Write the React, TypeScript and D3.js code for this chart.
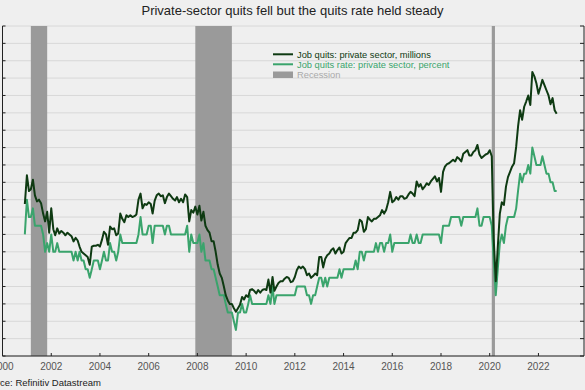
import * as d3 from "d3";

const WIDTH = 585;
const HEIGHT = 390;

// plot box (the original image is cropped on the left and right)
const X0 = 2.5;
const X1 = 584;
const Y0 = 26;
const Y1 = 356;

const TITLE = "Private-sector quits fell but the quits rate held steady";
const SOURCE = "Source: Refinitiv Datastream";

// monthly series, first value is December 2000
const START = new Date(2000, 11, 1);

const quitsMillions = [
  2.95,
  3.28, 3.10, 3.12, 3.23, 3.05, 2.98, 3.00, 2.96, 2.84, 2.75, 2.86, 2.62,
  2.90, 2.66, 2.59, 2.67, 2.61, 2.64, 2.62, 2.59, 2.62, 2.60, 2.58, 2.52,
  2.56, 2.53, 2.46, 2.40, 2.38, 2.36, 2.34, 2.25, 2.46, 2.47, 2.47, 2.48,
  2.46, 2.54, 2.63, 2.60, 2.48, 2.69, 2.66, 2.67, 2.59, 2.61, 2.84, 2.78,
  2.74, 2.82, 2.80, 2.82, 2.80, 2.81, 2.83, 3.00, 3.07, 2.90, 2.95, 2.94,
  2.97, 2.95, 2.84, 2.99, 3.05, 3.07, 3.04, 3.05, 2.96, 3.03, 3.07, 3.04,
  3.01, 2.99, 3.03, 2.97, 3.01, 2.97, 3.06, 3.03, 2.75, 2.88, 2.85, 2.92,
  2.83, 2.93, 2.76, 2.86, 2.70, 2.65, 2.62, 2.52, 2.52, 2.40, 2.25, 2.15,
  2.10, 2.00, 1.90, 1.84, 1.80, 1.80, 1.75, 1.71, 1.75, 1.79, 1.88, 1.85,
  1.90, 1.88, 1.96, 1.97, 1.95, 1.92, 1.96, 1.93, 1.96, 1.97, 1.96, 2.08,
  1.93, 2.11, 1.95, 2.00, 2.04, 2.06, 2.06, 2.09, 2.11, 2.10, 2.05, 2.06,
  2.11, 2.19, 2.23, 2.21, 2.23, 2.20, 2.13, 2.15, 2.10, 2.12, 2.15, 2.13,
  2.34, 2.34, 2.22, 2.32, 2.36, 2.38, 2.42, 2.44, 2.38, 2.42, 2.45, 2.38,
  2.40, 2.50, 2.53, 2.56, 2.56, 2.62, 2.62, 2.65, 2.77, 2.75, 2.63, 2.66,
  2.80, 2.77, 2.75, 2.78, 2.78, 2.80, 2.82, 2.88, 2.84, 2.88, 2.97, 3.09,
  2.97, 2.99, 3.03, 3.00, 3.04, 3.04, 3.01, 3.02, 3.06, 3.09, 3.07, 3.04,
  3.21, 3.15, 3.18, 3.12, 3.15, 3.19, 3.17, 3.21, 3.24, 3.27, 3.21, 3.25,
  3.09, 3.32, 3.38, 3.41, 3.42, 3.44, 3.46, 3.44, 3.49, 3.47, 3.44, 3.53,
  3.55, 3.57, 3.51, 3.51, 3.55, 3.57, 3.63, 3.52, 3.48, 3.50, 3.52, 3.53,
  3.57, 3.50, 2.55, 2.06, 2.45, 2.84, 2.97, 2.94, 3.15, 3.26, 3.32, 3.38,
  3.42, 3.61, 3.84, 4.03, 3.92, 4.07, 4.13, 4.20, 4.09, 4.47, 4.42, 4.34,
  4.22, 4.30, 4.38, 4.32, 4.26, 4.20, 4.10, 4.17, 4.03, 3.99,
];

const quitsRate = [
  2.6,
  3.0, 2.8, 2.8, 2.9, 2.7, 2.7, 2.7, 2.7, 2.6, 2.4, 2.5, 2.4,
  2.6, 2.4, 2.4, 2.5, 2.4, 2.4, 2.4, 2.4, 2.4, 2.4, 2.4, 2.3,
  2.4, 2.3, 2.4, 2.3, 2.3, 2.2, 2.2, 2.1, 2.2, 2.3, 2.3, 2.3,
  2.2, 2.3, 2.4, 2.3, 2.3, 2.5, 2.4, 2.4, 2.3, 2.4, 2.6, 2.5,
  2.5, 2.5, 2.5, 2.5, 2.5, 2.5, 2.5, 2.6, 2.8, 2.6, 2.6, 2.6,
  2.7, 2.7, 2.5, 2.7, 2.7, 2.7, 2.7, 2.7, 2.6, 2.7, 2.7, 2.6,
  2.6, 2.6, 2.6, 2.6, 2.6, 2.6, 2.6, 2.7, 2.4, 2.6, 2.5, 2.5,
  2.5, 2.6, 2.4, 2.5, 2.3, 2.3, 2.3, 2.2, 2.2, 2.1, 2.0, 1.9,
  1.9, 1.9, 1.8, 1.7, 1.7, 1.7, 1.6, 1.5, 1.7, 1.7, 1.8, 1.7,
  1.7, 1.8, 1.9, 1.8, 1.8, 1.8, 1.8, 1.8, 1.8, 1.8, 1.8, 1.9,
  1.8, 2.0, 1.8, 1.9, 1.9, 1.9, 1.9, 1.9, 1.9, 1.9, 1.9, 1.9,
  1.9, 2.0, 2.0, 2.0, 2.0, 2.0, 1.9, 1.9, 1.8, 1.9, 1.9, 2.0,
  2.1, 2.1, 2.0, 2.1, 2.0, 2.1, 2.1, 2.1, 2.1, 2.1, 2.2, 2.1,
  2.2, 2.2, 2.2, 2.2, 2.2, 2.2, 2.3, 2.2, 2.4, 2.4, 2.3, 2.4,
  2.4, 2.4, 2.4, 2.4, 2.5, 2.4, 2.5, 2.5, 2.4, 2.5, 2.5, 2.6,
  2.4, 2.5, 2.5, 2.5, 2.5, 2.5, 2.5, 2.5, 2.5, 2.6, 2.5, 2.5,
  2.6, 2.5, 2.5, 2.6, 2.6, 2.6, 2.6, 2.6, 2.6, 2.6, 2.6, 2.6,
  2.5, 2.7, 2.7, 2.7, 2.7, 2.8, 2.8, 2.8, 2.8, 2.8, 2.7, 2.8,
  2.8, 2.8, 2.8, 2.8, 2.8, 2.8, 2.9, 2.7, 2.7, 2.8, 2.8, 2.8,
  2.8, 2.7, 2.3, 1.9, 2.2, 2.5, 2.6, 2.5, 2.7, 2.8, 2.8, 2.8,
  2.8, 2.9, 3.1, 3.3, 3.2, 3.3, 3.3, 3.4, 3.3, 3.6, 3.5, 3.4,
  3.4, 3.4, 3.5, 3.4, 3.3, 3.3, 3.2, 3.2, 3.1, 3.1,
];

const recessions: [Date, Date][] = [
  [new Date(2001, 2, 1), new Date(2001, 10, 1)],
  [new Date(2007, 11, 1), new Date(2009, 5, 1)],
  [new Date(2020, 1, 1), new Date(2020, 2, 20)],
];

const xTickYears = [2000, 2002, 2004, 2006, 2008, 2010, 2012, 2014, 2016, 2018, 2020, 2022];

const DARK = "#0e3a12";
const LIGHT = "#3aa46c";
const GREY_BAR = "#9a9a9a";

type Pt = { date: Date; value: number };

const toPoints = (values: number[]): Pt[] =>
  values.map((value, i) => ({ date: d3.timeMonth.offset(START, i), value }));

export default function App() {
  const x = d3
    .scaleTime()
    .domain([new Date(2000, 0, 1), new Date(2023, 10, 15)])
    .range([X0, X1]);
  const y = d3.scaleLinear().domain([1.2, 5.0]).range([Y1, Y0]);

  const gridValues = d3.range(0, 20).map((k) => 1.2 + k * 0.2);

  const line = d3
    .line<Pt>()
    .x((d) => x(d.date))
    .y((d) => y(d.value));

  const millionsPath = line(toPoints(quitsMillions)) ?? "";
  const ratePath = line(toPoints(quitsRate)) ?? "";

  return (
    <svg
      width={WIDTH}
      height={HEIGHT}
      style={{ position: "absolute", left: 0, top: 0, background: "#efefef" }}
      fontFamily="'Liberation Sans', Arial, sans-serif"
    >
      <rect width={WIDTH} height={HEIGHT} fill="#efefef" />
      <text x={292.5} y={15} textAnchor="middle" fontSize={13} fill="#222">
        {TITLE}
      </text>

      {/* gridlines */}
      {gridValues.map((v, i) => (
        <line
          key={i}
          x1={X0}
          x2={X1}
          y1={y(v)}
          y2={y(v)}
          stroke="#d8d8d8"
          strokeWidth={1}
        />
      ))}

      {/* recession shading */}
      {recessions.map(([a, b], i) => (
        <rect
          key={i}
          x={x(a)}
          y={Y0}
          width={x(b) - x(a)}
          height={Y1 - Y0}
          fill={GREY_BAR}
        />
      ))}

      <path d={ratePath} fill="none" stroke={LIGHT} strokeWidth={2} strokeLinejoin="round" />
      <path d={millionsPath} fill="none" stroke={DARK} strokeWidth={2} strokeLinejoin="round" />

      {/* axes */}
      <line x1={X0} x2={X0} y1={Y0} y2={Y1} stroke="#222" strokeWidth={1} />
      <line x1={X1} x2={X1} y1={Y0} y2={Y1} stroke="#222" strokeWidth={1} />
      <line x1={X0} x2={X1} y1={Y1} y2={Y1} stroke="#222" strokeWidth={1} />
      {gridValues.map((v, i) => (
        <g key={i}>
          <line x1={X0} x2={X0 + 3} y1={y(v)} y2={y(v)} stroke="#222" />
          <line x1={X1 - 4} x2={X1} y1={y(v)} y2={y(v)} stroke="#222" />
        </g>
      ))}
      {xTickYears.map((yr) => {
        const px = x(new Date(yr, 0, 1));
        return (
          <g key={yr}>
            <line x1={px} x2={px} y1={Y1 - 3} y2={Y1} stroke="#222" />
            <text x={px} y={370} textAnchor="middle" fontSize={10} fill="#555">
              {yr}
            </text>
          </g>
        );
      })}

      {/* legend */}
      <line x1={273} x2={293} y1={54.3} y2={54.3} stroke={DARK} strokeWidth={2} />
      <text x={297} y={57.5} fontSize={9.3} fill={DARK}>
        Job quits: private sector, millions
      </text>
      <line x1={273} x2={293} y1={64.3} y2={64.3} stroke={LIGHT} strokeWidth={2} />
      <text x={297} y={67.6} fontSize={9.3} fill={LIGHT}>
        Job quits rate: private sector, percent
      </text>
      <rect x={273} y={71.5} width={20} height={6.5} fill={GREY_BAR} />
      <text x={297} y={78} fontSize={9.3} fill="#aaa">
        Recession
      </text>

      <text x={-20} y={386} fontSize={9.5} fill="#222">
        {SOURCE}
      </text>
    </svg>
  );
}
